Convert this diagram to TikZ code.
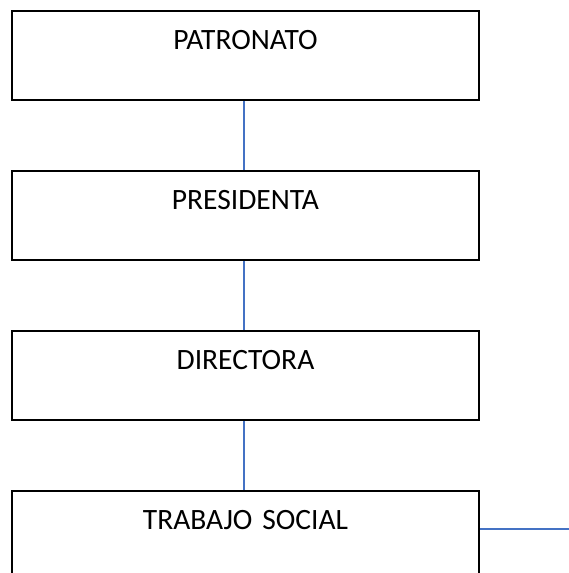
\documentclass[tikz,border=0pt]{standalone}
\usepackage{fontspec}
\setmainfont{Carlito}
\usetikzlibrary{positioning}
\definecolor{linkblue}{RGB}{68,114,196}
\tikzset{
	orgbox/.style={draw=black, line width=2pt, inner sep=0pt, text width=467pt, align=center,
		text height=38pt, text depth=51pt, font=\fontsize{29.5}{32}\selectfont},
	link/.style={draw=linkblue, line width=2pt}
}

\begin{document}
\begin{tikzpicture}
			%%%%% START %%%%%
			
			\useasboundingbox (0,0) rectangle (569pt,-573pt);
			
			\node[orgbox, anchor=north west] (patronato) at (11pt,-10pt) {PATRONATO};
			\node[orgbox, below=69pt of patronato] (presidenta) {PRESIDENTA};
			\node[orgbox, below=69pt of presidenta] (directora) {DIRECTORA};
			\node[orgbox, below=69pt of directora] (trabajo) {TRABAJO SOCIAL};
			
			\coordinate (tsend) at (569pt,-529pt);
			
			\draw[link] (patronato.south) ++(-2pt,0) coordinate (p1) -- (p1 |- presidenta.north);
			\draw[link] (presidenta.south) ++(-2pt,0) coordinate (p2) -- (p2 |- directora.north);
			\draw[link] (directora.south) ++(-2pt,0) coordinate (p3) -- (p3 |- trabajo.north);
			\draw[link] (trabajo.east |- tsend) -- (tsend);
			
			%%%%% END %%%%%
		\end{tikzpicture}
\end{document}
